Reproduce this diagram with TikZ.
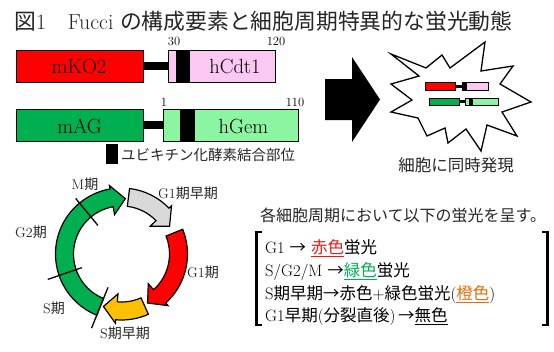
\documentclass[tikz,border=0pt]{standalone}
\usepackage{fontspec}
\newfontfamily\jp{Noto Sans CJK JP}
\definecolor{kored}{RGB}{255,0,0}
\definecolor{cdtpink}{RGB}{250,200,242}
\definecolor{agreen}{RGB}{0,176,80}
\definecolor{gemgreen}{RGB}{140,245,162}
\definecolor{phgray}{RGB}{217,217,217}
\definecolor{phorange}{RGB}{255,192,0}
\definecolor{txtred}{RGB}{235,25,25}
\definecolor{txtgreen}{RGB}{0,176,80}
\definecolor{txtorange}{RGB}{228,108,10}
\newcommand\fs[1]{\fontsize{#1}{#1}\selectfont}
\newcommand\ulc[2]{{\color{#1}\underline{#2}}}
% one curved block arrow of the cell cycle ring: #1 tail angle, #2 tip angle, #3 fill
\newcommand\phasearrow[3]{%
  \pgfmathsetmacro\hbase{#2-14}%
  \draw[phase, fill=#3] (#1:48) arc[start angle=#1, end angle=\hbase, radius=48]
    -- (\hbase:40) -- (#2:55.5) -- (\hbase:69.5) -- (\hbase:66)
    arc[start angle=\hbase, end angle=#1, radius=66] -- cycle;}
\begin{document}
\begin{tikzpicture}[x=1pt,y=-1pt,
  dombox/.style={draw=black, line width=1.4pt, inner sep=0pt, minimum height=32pt, anchor=north west},
  ubbar/.style={fill=black, inner sep=0pt, minimum height=32pt, anchor=north west},
  link/.style={line width=7.5pt},
  minidom/.style={draw=black, line width=1pt, inner sep=0pt, minimum height=7.5pt, anchor=north west},
  minibar/.style={fill=black, inner sep=0pt, minimum height=7.5pt, anchor=north west},
  minilink/.style={line width=3pt},
  lbl/.style={inner sep=0pt, font=\fs{20.5}},
  num/.style={inner sep=0pt, font=\fs{12.5}},
  phase/.style={draw=black, line width=1.2pt, line join=miter},
  tick/.style={line width=1.3pt},
  phlbl/.style={inner sep=0pt, font=\fs{14}, text=black!85},
  body/.style={inner sep=0pt, anchor=west, font=\fs{16.5}},
  bracket/.style={line width=2.2pt},
]
\useasboundingbox[fill=white] (0,0) rectangle (554,351);

% title
\node[anchor=west, inner sep=0pt, font=\fs{21.8}, text=black!85] (title) at (14,21)
  {{\jp 図}1{\jp 　}Fucci {\jp の構成要素と細胞周期特異的な蛍光動態}};

% mKO2-hCdt1 construct
\node[dombox, fill=kored, minimum width=127pt] (mko) at (15.5,49.5) {};
\node[dombox, fill=cdtpink, minimum width=107pt] (cdt) at (167.5,49.5) {};
\node[ubbar, minimum width=14pt] (cdtub) at (176,49.5) {};
\draw[link] (mko.east) -- (cdt.west);
\node[lbl] (mkot) at (79,66) {mKO2};
\node[lbl] (cdtt) at (235,66) {hCdt1};
\node[num] (n30) at (174,41) {30};
\node[num] (n120) at (276,41) {120};

% mAG-hGem construct
\node[dombox, fill=agreen, minimum width=127pt] (mag) at (15.5,108.5) {};
\node[dombox, fill=gemgreen, minimum width=135pt] (gem) at (162.5,108.5) {};
\node[ubbar, minimum width=15pt] (gemub) at (180,108.5) {};
\draw[link] (mag.east) -- (gem.west);
\node[lbl] (magt) at (79.5,126) {mAG};
\node[lbl] (gemt) at (243.5,126) {hGem};
\node[num] (n1) at (164,102) {1};
\node[num] (n110) at (295,102) {110};

% key for the ubiquitin ligase binding site
\node[fill=black, inner sep=0pt, minimum width=12pt, minimum height=20pt, anchor=north west] (ubkey) at (106,144) {};
\node[anchor=west, inner sep=0pt, font=\fs{14.5}\jp, text=black!85] (ubtxt) at (121,155) {ユビキチン化酵素結合部位};

% big arrow
\fill[black] (325,79) -- (352,79) -- (352,57) -- (380,99.5) -- (352,142) -- (352,120) -- (325,120) -- cycle;

% burst with both constructs inside
\draw[line width=1.3pt, fill=white, line join=miter]
  (391,54) -- (426,68) -- (442,55) -- (450,68) -- (485,42) -- (481,71) -- (513,66)
  -- (500,84) -- (531,102) -- (502,112) -- (517,136) -- (487,125) -- (481,151)
  -- (466,129) -- (448,143) -- (445,128) -- (427,136) -- (418,118) -- (391,112)
  -- (412,100) -- (391,84) -- (419,76) -- cycle;
\node[minidom, fill=kored, minimum width=30pt] (smko) at (424.5,82) {};
\node[minidom, fill=cdtpink, minimum width=26pt] (scdt) at (461.5,82) {};
\node[minibar, minimum width=4pt] (scdtub) at (463,82) {};
\draw[minilink] (smko.east) -- (scdt.west);
\node[minidom, fill=agreen, minimum width=30pt] (smag) at (428.5,97.5) {};
\node[minidom, fill=gemgreen, minimum width=33pt] (sgem) at (465,97.5) {};
\node[minibar, minimum width=4pt] (sgemub) at (468.5,97.5) {};
\draw[minilink] (smag.east) -- (sgem.west);
\node[inner sep=0pt, font=\fs{16.5}\jp, text=black!85] (coexp) at (456,165) {細胞に同時発現};

% cell cycle ring
\begin{scope}[shift={(121.5,254)}]
  \phasearrow{112}{274}{agreen}
  \phasearrow{277}{330}{phgray}
  \phasearrow{338}{422}{kored}
  \phasearrow{66}{109}{phorange}
  \draw[tick] (230.5:37) -- (230.5:72);
  \draw[tick] (161:42) -- (161:78);
  \draw[tick] (112:36) -- (112:80);
\end{scope}
\node[phlbl] (lM) at (85,184) {M{\jp 期}};
\node[phlbl] (lGe) at (188,193) {G1{\jp 期早期}};
\node[phlbl] (lGt) at (31,232) {G2{\jp 期}};
\node[phlbl] (lGo) at (203,272) {G1{\jp 期}};
\node[phlbl] (lS) at (54,308) {S{\jp 期}};
\node[phlbl] (lSe) at (125,333) {S{\jp 期早期}};

% fluorescence per phase
\node[anchor=west, inner sep=0pt, font=\fs{16}\jp, text=black!85] (head) at (260,215) {各細胞周期において以下の蛍光を呈す。};
\draw[bracket] (262,232) -- (256.5,232) -- (256.5,325) -- (262,325);
\draw[bracket] (542,232) -- (547.5,232) -- (547.5,325) -- (542,325);
\node[body] (r1) at (265,248) {G1 {\jp →} \ulc{txtred}{\jp 赤色}{\jp 蛍光}};
\node[body] (r2) at (265,272) {S/G2/M {\jp →}\ulc{txtgreen}{\jp 緑色}{\jp 蛍光}};
\node[body] (r3) at (265,295) {S{\jp 期早期→赤色}+{\jp 緑色蛍光}(\ulc{txtorange}{\jp 橙色})};
\node[body] (r4) at (265,317) {G1{\jp 早期}({\jp 分裂直後})\,{\jp →}\ulc{black}{\jp 無色}};
\end{tikzpicture}
\end{document}
